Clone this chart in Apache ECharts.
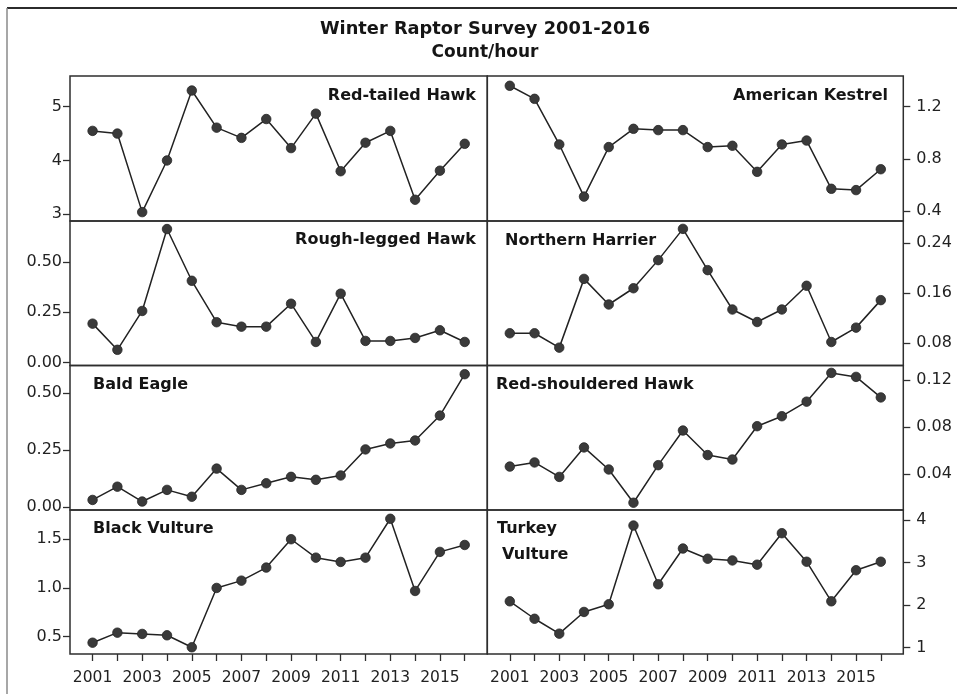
<!DOCTYPE html>
<html>
<head>
<meta charset="utf-8">
<title>Winter Raptor Survey 2001-2016</title>
<script src="https://cdn.jsdelivr.net/npm/echarts@6/dist/echarts.min.js"></script>
<style>
  html, body { margin: 0; padding: 0; background: #ffffff; }
  #chart { width: 957px; height: 694px; }
</style>
</head>
<body>
<div id="chart"></div>
<script>
// Survey years
const years = [2001, 2002, 2003, 2004, 2005, 2006, 2007, 2008, 2009, 2010, 2011, 2012, 2013, 2014, 2015, 2016];
const yearLabels = [2001, 2003, 2005, 2007, 2009, 2011, 2013, 2015];

// Count per hour, by species
const redTailedHawk     = [4.55, 4.50, 3.04, 4.00, 5.30, 4.61, 4.42, 4.77, 4.23, 4.87, 3.80, 4.33, 4.55, 3.27, 3.81, 4.31];
const americanKestrel   = [1.36, 1.26, 0.91, 0.51, 0.89, 1.03, 1.02, 1.02, 0.89, 0.90, 0.70, 0.91, 0.94, 0.57, 0.56, 0.72];
const roughLeggedHawk   = [0.193, 0.063, 0.256, 0.663, 0.406, 0.200, 0.178, 0.178, 0.292, 0.102, 0.342, 0.107, 0.107, 0.122, 0.160, 0.102];
const northernHarrier   = [0.096, 0.096, 0.073, 0.183, 0.142, 0.168, 0.213, 0.263, 0.197, 0.134, 0.114, 0.134, 0.172, 0.082, 0.105, 0.149];
const baldEagle         = [0.032, 0.090, 0.025, 0.076, 0.046, 0.169, 0.076, 0.105, 0.133, 0.120, 0.139, 0.253, 0.279, 0.292, 0.401, 0.582];
const redShoulderedHawk = [0.0465, 0.050, 0.0377, 0.0628, 0.044, 0.0157, 0.0477, 0.0772, 0.0563, 0.0525, 0.0809, 0.0894, 0.1018, 0.1263, 0.1229, 0.1054];
const blackVulture      = [0.438, 0.541, 0.528, 0.514, 0.391, 1.00, 1.075, 1.209, 1.50, 1.311, 1.267, 1.311, 1.71, 0.969, 1.37, 1.441];
const turkeyVulture     = [2.09, 1.68, 1.33, 1.84, 2.02, 3.87, 2.49, 3.33, 3.09, 3.05, 2.95, 3.69, 3.02, 2.09, 2.82, 3.02];

// Y tick values per panel
const ticksRedTailed     = [3, 4, 5];
const ticksKestrel       = [0.4, 0.8, 1.2];
const ticksRoughLegged   = [0, 0.25, 0.5];
const ticksHarrier       = [0.08, 0.16, 0.24];
const ticksBaldEagle     = [0, 0.25, 0.5];
const ticksRedShouldered = [0.04, 0.08, 0.12];
const ticksBlackVulture  = [0.5, 1.0, 1.5];
const ticksTurkeyVulture = [1, 2, 3, 4];

const panels = [
  { name: 'Red-tailed Hawk',     data: redTailedHawk,     ticks: ticksRedTailed,     dec: 0, min: 2.875,  max: 5.57,   col: 0, row: 0 },
  { name: 'American Kestrel',    data: americanKestrel,   ticks: ticksKestrel,       dec: 1, min: 0.323,  max: 1.435,  col: 1, row: 0 },
  { name: 'Rough-legged Hawk',   data: roughLeggedHawk,   ticks: ticksRoughLegged,   dec: 2, min: -0.015, max: 0.703,  col: 0, row: 1 },
  { name: 'Northern Harrier',    data: northernHarrier,   ticks: ticksHarrier,       dec: 2, min: 0.0444, max: 0.2756, col: 1, row: 1 },
  { name: 'Bald Eagle',          data: baldEagle,         ticks: ticksBaldEagle,     dec: 2, min: -0.012, max: 0.62,   col: 0, row: 2 },
  { name: 'Red-shouldered Hawk', data: redShoulderedHawk, ticks: ticksRedShouldered, dec: 2, min: 0.0095, max: 0.1326, col: 1, row: 2 },
  { name: 'Black Vulture',       data: blackVulture,      ticks: ticksBlackVulture,  dec: 1, min: 0.322,  max: 1.80,   col: 0, row: 3 },
  { name: 'Turkey Vulture',      data: turkeyVulture,     ticks: ticksTurkeyVulture, dec: 0, min: 0.852,  max: 4.235,  col: 1, row: 3 }
];

// Panel layout (pixels)
const colLeft = [70, 487.3];
const colWidth = [417.3, 416];
const rowTop = [76, 221, 365.5, 510];
const rowHeight = [145, 144.5, 144.5, 144];

const ink = '#151515';
const frame = '#2e2e2e';
const font = 'DejaVu Sans, Verdana, sans-serif';

const grids = [], xAxes = [], yAxes = [], series = [];

panels.forEach((p, i) => {
  const bottom = p.row === 3;
  grids.push({
    left: colLeft[p.col], top: rowTop[p.row],
    width: colWidth[p.col], height: rowHeight[p.row],
    show: true, borderColor: frame, borderWidth: 1.5,
    backgroundColor: 'transparent',
    containLabel: false, outerBoundsMode: 'none'
  });
  xAxes.push({
    type: 'value', gridIndex: i, min: 2000.09, max: 2016.91,
    splitLine: { show: false },
    axisLine: { show: false },
    axisTick: { show: bottom, customValues: years, length: 7, inside: false,
                lineStyle: { color: frame, width: 1.3 } },
    axisLabel: { show: bottom, customValues: yearLabels, margin: 16,
                 color: '#222', fontSize: 15.5, fontFamily: font,
                 formatter: v => String(v) }
  });
  yAxes.push({
    type: 'value', gridIndex: i, min: p.min, max: p.max,
    position: p.col === 0 ? 'left' : 'right',
    splitLine: { show: false },
    axisLine: { show: false },
    axisTick: { show: true, customValues: p.ticks, length: 7,
                lineStyle: { color: frame, width: 1.3 } },
    axisLabel: { show: true, customValues: p.ticks, margin: p.col === 0 ? 8 : 13,
                 color: '#222', fontSize: 16, fontFamily: font,
                 formatter: v => Number(v).toFixed(p.dec) }
  });
  series.push({
    type: 'line', name: p.name, xAxisIndex: i, yAxisIndex: i,
    data: years.map((y, k) => [y, p.data[k]]),
    symbol: 'circle', symbolSize: 9.5,
    itemStyle: { color: '#3a3a3a', borderColor: '#262626', borderWidth: 0.8 },
    lineStyle: { color: '#222222', width: 1.5 },
    animation: false, silent: true
  });
});

// Panel captions
const labelStyle = { fill: ink, fontSize: 16, fontWeight: 'bold', fontFamily: font };
function caption(text, x, y, align) {
  return { type: 'text', x: x, y: y, z: 10,
           style: Object.assign({ text: text, align: align, verticalAlign: 'middle' }, labelStyle) };
}

const graphics = [
  // outer frame (top and left edges)
  { type: 'line', shape: { x1: 7, y1: 8, x2: 957, y2: 8 }, style: { stroke: '#2b2b2b', lineWidth: 2 } },
  { type: 'line', shape: { x1: 7, y1: 8, x2: 7, y2: 694 }, style: { stroke: '#8a8a8a', lineWidth: 1.5 } },
  caption('Red-tailed Hawk', 476, 96, 'right'),
  caption('American Kestrel', 888, 96, 'right'),
  caption('Rough-legged Hawk', 476, 240, 'right'),
  caption('Northern Harrier', 505, 241, 'left'),
  caption('Bald Eagle', 93, 385, 'left'),
  caption('Red-shouldered Hawk', 496, 385, 'left'),
  caption('Black Vulture', 93, 529, 'left'),
  caption('Turkey', 497, 529, 'left'),
  caption('Vulture', 502, 555, 'left')
];

const chart = echarts.init(document.getElementById('chart'), null, { renderer: 'canvas' });
chart.setOption({
  backgroundColor: '#ffffff',
  animation: false,
  title: [
    { text: 'Winter Raptor Survey 2001-2016', left: 480, top: 15, textAlign: 'center',
      textStyle: { color: ink, fontSize: 17.8, fontWeight: 'bold', fontFamily: font } },
    { text: 'Count/hour', left: 480, top: 39, textAlign: 'center',
      textStyle: { color: ink, fontSize: 17, fontWeight: 'bold', fontFamily: font } }
  ],
  grid: grids,
  xAxis: xAxes,
  yAxis: yAxes,
  series: series,
  graphic: graphics
});
</script>
</body>
</html>
